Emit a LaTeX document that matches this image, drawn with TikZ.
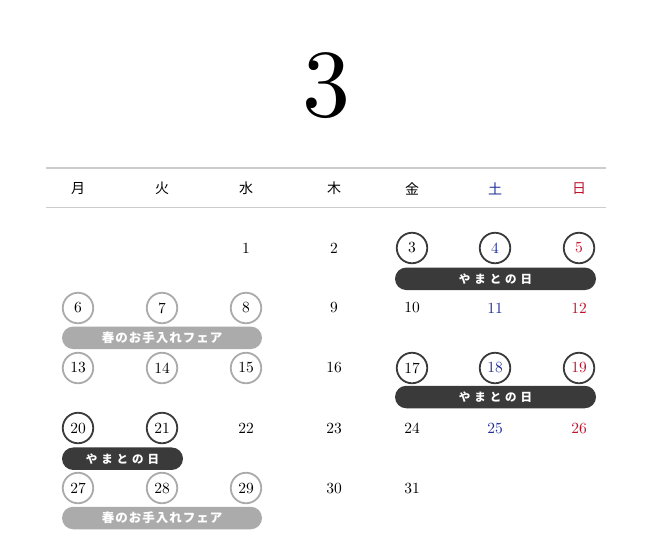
\documentclass[tikz,border=0pt]{standalone}
\usepackage{fontspec}
\newfontfamily\jp{Noto Sans CJK JP}
\newfontfamily\numfont{lmroman10-regular}[Extension=.otf]
\definecolor{darkc}{HTML}{3A3A3A}
\definecolor{grayc}{HTML}{ABABAB}
\definecolor{satc}{HTML}{1F2D96}
\definecolor{sunc}{HTML}{C0102A}
\definecolor{linec}{HTML}{CCCCCC}
\newcommand\yamatotxt{や\hspace{3.9pt}ま\hspace{3.9pt}と\hspace{3.9pt}の\hspace{3.9pt}日}
\newcommand\harutxt{春\hspace{1pt}の\hspace{1pt}お\hspace{1pt}手\hspace{1pt}入\hspace{1pt}れ\hspace{1pt}フ\hspace{1pt}ェ\hspace{1pt}ア}
\begin{document}
\begin{tikzpicture}[x=1pt,y=-1pt,
  num/.style={inner sep=0pt, font=\numfont\fontsize{15.5}{15.5}\selectfont},
  dplain/.style={num, text=black},
  dsat/.style={num, text=satc},
  dsun/.style={num, text=sunc},
  ring/.style={num, circle, minimum size=30.5pt, line width=1.8pt},
  ddk/.style={ring, draw=darkc, text=black},
  ddksat/.style={ring, draw=darkc, text=satc},
  ddksun/.style={ring, draw=darkc, text=sunc},
  dgr/.style={ring, draw=grayc, text=black},
  hdr/.style={inner sep=0pt, font=\jp\fontsize{14}{14}\selectfont},
  hline/.style={draw=linec, line width=1.5pt},
  barbox/.style={rectangle, rounded corners=11.25pt, minimum height=22.5pt, inner sep=0pt, text=white, font=\jp\bfseries\fontsize{11.5}{12}\selectfont},
  darkbar/.style={barbox, fill=darkc},
  graybar/.style={barbox, fill=grayc, font=\jp\bfseries\fontsize{12.5}{12.5}\selectfont}
]
\useasboundingbox (0,0) rectangle (652,541);
\node[inner sep=0pt, font=\numfont\fontsize{96}{96}\selectfont] (month) at (326,86) {3};
\coordinate (l1a) at (46,168); \coordinate (l1b) at (606,168);
\coordinate (l2a) at (46,207.5); \coordinate (l2b) at (606,207.5);
\draw[hline] (l1a) -- (l1b);
\draw[hline, line width=1.3pt] (l2a) -- (l2b);
\node[hdr] (h1) at (78,188.5) {月};
\node[hdr] (h2) at (162,188.5) {火};
\node[hdr] (h3) at (246,188.5) {水};
\node[hdr] (h4) at (334,188.5) {木};
\node[hdr] (h5) at (412,188.5) {金};
\node[hdr, text=satc] (h6) at (495,188.5) {土};
\node[hdr, text=sunc] (h7) at (579,188.5) {日};
\foreach \d/\x/\y/\s in {
  1/246/248/dplain, 2/334/248/dplain, 3/412/248/ddk, 4/495/248/ddksat, 5/579/248/ddksun,
  6/78/308/dgr, 7/162/308/dgr, 8/246/308/dgr, 9/334/308/dplain, 10/412/308/dplain, 11/495/308/dsat, 12/579/308/dsun,
  13/78/368/dgr, 14/162/368/dgr, 15/246/368/dgr, 16/334/368/dplain, 17/412/368/ddk, 18/495/368/ddksat, 19/579/368/ddksun,
  20/78/428/ddk, 21/162/428/ddk, 22/246/428/dplain, 23/334/428/dplain, 24/412/428/dplain, 25/495/428/dsat, 26/579/428/dsun,
  27/78/488/dgr, 28/162/488/dgr, 29/246/488/dgr, 30/334/488/dplain, 31/412/488/dplain}
{ \node[\s] (d\d) at (\x,\y) {\d}; }
\node[darkbar, minimum width=201pt] (b1) at (495.5,278.8) {\yamatotxt};
\node[graybar, minimum width=200pt] (b2) at (162,337.8) {\harutxt};
\node[darkbar, minimum width=201pt] (b3) at (495.5,397) {\yamatotxt};
\node[darkbar, minimum width=121pt] (b4) at (122.5,458.7) {\yamatotxt};
\node[graybar, minimum width=200pt] (b5) at (162,518) {\harutxt};
\end{tikzpicture}
\end{document}
